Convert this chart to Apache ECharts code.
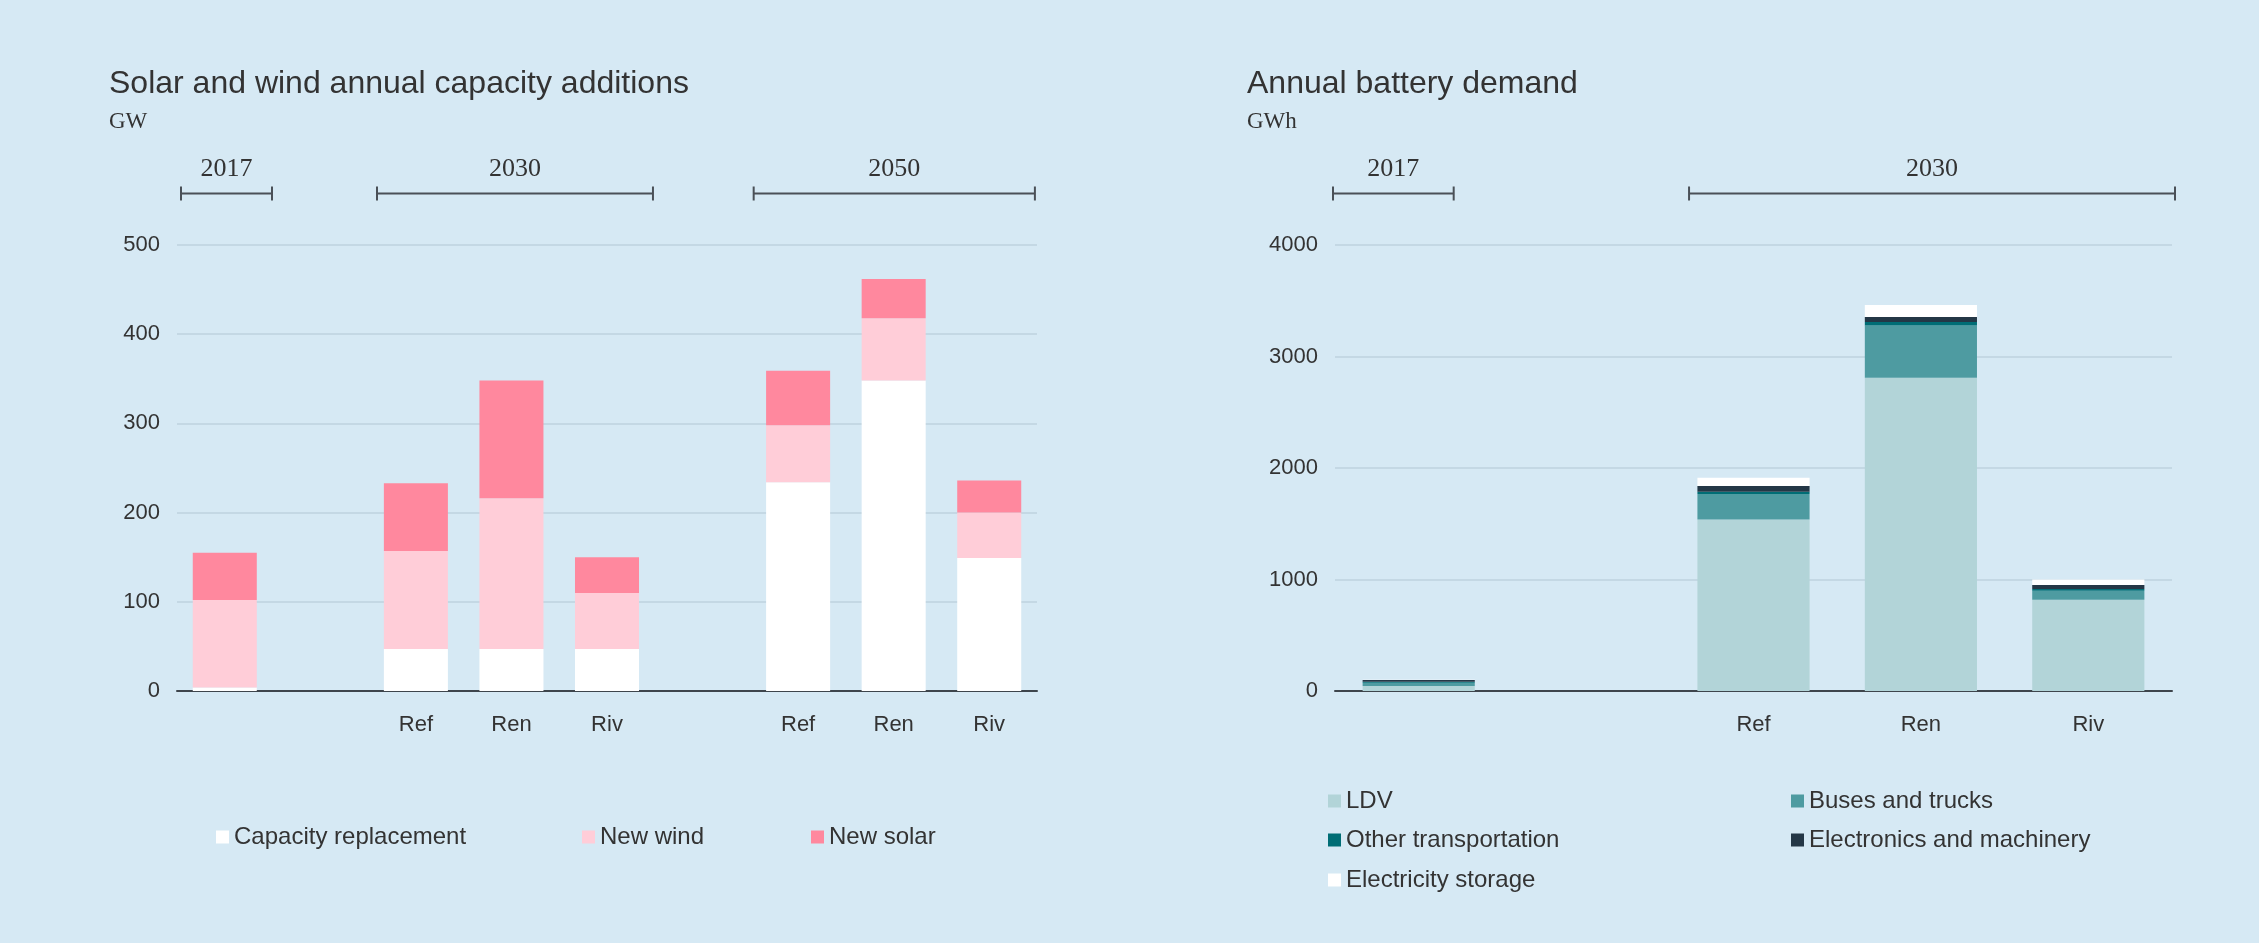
<!DOCTYPE html>
<html><head><meta charset="utf-8">
<script src="https://cdn.jsdelivr.net/npm/echarts@6/dist/echarts.min.js"></script>
<style>html,body{margin:0;padding:0;background:#d6e9f4;} #c{width:2259px;height:943px;}</style>
</head><body><div id="c"></div>
<script>
// ---------- Data: solar & wind capacity additions (GW) ----------
const solarCategories = ['2017', 'gap-a', 'Ref 2030', 'Ren 2030', 'Riv 2030', 'gap-b', 'Ref 2050', 'Ren 2050', 'Riv 2050'];
const solarTickLabels = ['', '', 'Ref', 'Ren', 'Riv', '', 'Ref', 'Ren', 'Riv'];
const capacityReplacement = [4, null, 47, 47, 47, null, 234, 348, 149];
const newWind = [98, null, 110, 169, 63, null, 64, 70, 51];
const newSolar = [53, null, 76, 132, 40, null, 61, 44, 36];
const solarYMax = 500, solarYInterval = 100;
// year groups: label + extent in category units
const solarGroupLabels = ['2017', '2030', '2050'];
const solarGroupSpans = [[-0.458, 0.494], [1.593, 4.481], [5.535, 8.478]];

// ---------- Data: annual battery demand (GWh) ----------
const batteryCategories = ['2017', 'gap', 'Ref', 'Ren', 'Riv'];
const batteryTickLabels = ['', '', 'Ref', 'Ren', 'Riv'];
const ldv = [45, null, 1537, 2810, 819];
const busesTrucks = [29, null, 230, 467, 81];
const otherTransport = [9, null, 21, 33, 15];
const electronics = [16, null, 51, 45, 36];
const electricityStorage = [2, null, 74, 108, 48];
const batteryYMax = 4000, batteryYInterval = 1000;
const batteryGroupLabels = ['2017', '2030'];
const batteryGroupSpans = [[-0.512, 0.209], [1.615, 4.518]];

// ---------- Styling ----------
const SANS = 'Liberation Sans';
const SERIF = 'Liberation Serif';
const TXT = '#333333';
const GRIDC = '#c4d8e4';
const AXISC = '#3e454c';

const chart = echarts.init(document.getElementById('c'), null, {renderer: 'canvas'});

function xAxisDef(gridIndex, cats, ticks) {
  return {
    type: 'category', gridIndex, data: cats,
    axisTick: {show: false},
    axisLine: {lineStyle: {color: AXISC, width: 2}},
    axisLabel: {formatter: (v, i) => ticks[i], fontSize: 22, color: TXT, fontFamily: SANS, margin: 23}
  };
}
function yAxisDef(gridIndex, max, interval) {
  return {
    type: 'value', gridIndex, min: 0, max, interval,
    axisLine: {show: false}, axisTick: {show: false},
    splitLine: {lineStyle: {color: GRIDC, width: 2}},
    axisLabel: {formatter: v => String(v), fontSize: 22, color: TXT, fontFamily: SANS, margin: 17}
  };
}
function bar(name, data, color, idx, stack) {
  return {name, type: 'bar', stack, data, xAxisIndex: idx, yAxisIndex: idx, barWidth: '67%',
    itemStyle: {color}, emphasis: {disabled: true}};
}
function legend(name, left, top) {
  return {data: [name], left, top, padding: 0, itemWidth: 13, itemHeight: 13, icon: 'rect', selectedMode: false,
    textStyle: {fontSize: 24, color: TXT, fontFamily: SANS}};
}
function title(text, left, top, size, family) {
  return {text, left, top, padding: 0, textStyle: {fontSize: size, fontWeight: 'normal', color: TXT, fontFamily: family}};
}

chart.setOption({
  backgroundColor: '#d6e9f4',
  animation: false,
  title: [
    title('Solar and wind annual capacity additions', 109, 68, 32, SANS),
    title('GW', 109, 110, 23, SERIF),
    title('Annual battery demand', 1247, 68, 32, SANS),
    title('GWh', 1247, 110, 23, SERIF)
  ],
  grid: [
    {left: 177, right: 1222, top: 245, bottom: 252},
    {left: 1335, right: 87, top: 245, bottom: 252}
  ],
  xAxis: [xAxisDef(0, solarCategories, solarTickLabels), xAxisDef(1, batteryCategories, batteryTickLabels)],
  yAxis: [yAxisDef(0, solarYMax, solarYInterval), yAxisDef(1, batteryYMax, batteryYInterval)],
  legend: [
    legend('Capacity replacement', 216, 825),
    legend('New wind', 582, 825),
    legend('New solar', 811, 825),
    legend('LDV', 1328, 789),
    legend('Buses and trucks', 1791, 789),
    legend('Other transportation', 1328, 828),
    legend('Electronics and machinery', 1791, 828),
    legend('Electricity storage', 1328, 868)
  ],
  series: [
    bar('Capacity replacement', capacityReplacement, '#ffffff', 0, 's'),
    bar('New wind', newWind, '#ffcdd8', 0, 's'),
    bar('New solar', newSolar, '#ff889e', 0, 's'),
    bar('LDV', ldv, '#b2d4d8', 1, 'b'),
    bar('Buses and trucks', busesTrucks, '#4e9ba1', 1, 'b'),
    bar('Other transportation', otherTransport, '#006d75', 1, 'b'),
    bar('Electronics and machinery', electronics, '#243746', 1, 'b'),
    bar('Electricity storage', electricityStorage, '#ffffff', 1, 'b')
  ]
});

// brackets above each chart, positioned via the category axis scale
function brackets(xAxisIndex, labels, spans) {
  const c0 = chart.convertToPixel({xAxisIndex}, 0);
  const c1 = chart.convertToPixel({xAxisIndex}, 1);
  const band = c1 - c0;
  const y = 193.5, h = 7;
  const els = [];
  labels.forEach((lab, i) => {
    const xa = c0 + spans[i][0] * band;
    const xb = c0 + spans[i][1] * band;
    const st = {stroke: '#4a5057', lineWidth: 2};
    els.push({type: 'line', shape: {x1: xa, y1: y, x2: xb, y2: y}, style: st, silent: true});
    els.push({type: 'line', shape: {x1: xa, y1: y - h, x2: xa, y2: y + h}, style: st, silent: true});
    els.push({type: 'line', shape: {x1: xb, y1: y - h, x2: xb, y2: y + h}, style: st, silent: true});
    els.push({type: 'text', x: (xa + xb) / 2, y: y - 24, silent: true,
      style: {text: lab, fontSize: 26, fontFamily: SERIF, fill: TXT, align: 'center', verticalAlign: 'middle'}});
  });
  return els;
}
chart.setOption({graphic: [].concat(
  brackets(0, solarGroupLabels, solarGroupSpans),
  brackets(1, batteryGroupLabels, batteryGroupSpans)
)});
</script></body></html>
